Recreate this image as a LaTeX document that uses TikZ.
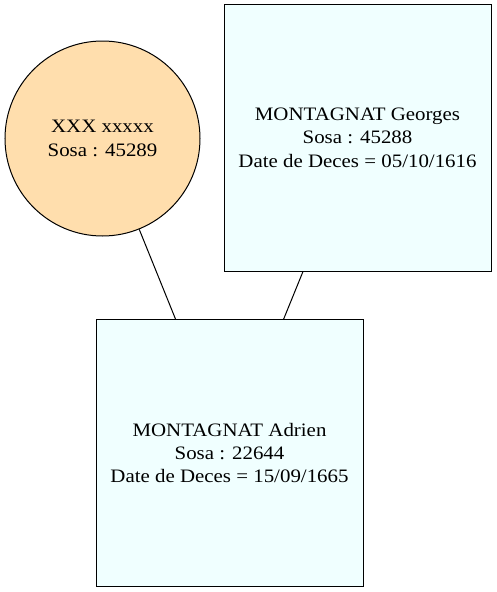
\documentclass[tikz,border=0pt]{standalone}
\usepackage{fontspec}
\setmainfont{Liberation Serif}[FakeStretch=1.1]
\definecolor{navaj}{RGB}{255,222,173}
\definecolor{azur}{RGB}{240,255,255}
\begin{document}
\begin{tikzpicture}[x=1pt,y=-1pt,
  txt/.style={align=center, inner sep=0pt, font=\fontsize{19}{23.3}\selectfont},
  person/.style={txt, draw=black, line width=1pt, fill=azur, minimum width=267pt, minimum height=267pt},
  spouse/.style={txt, circle, draw=black, line width=1pt, fill=navaj, minimum size=195pt},
  link/.style={draw=black, line width=1pt}]
\useasboundingbox (0,0) rectangle (496,592);
\node[spouse] (w) at (102.5,138.5) {XXX xxxxx\\Sosa : 45289};
\node[person] (h) at (357.5,137.5) {MONTAGNAT Georges\\Sosa : 45288\\Date de Deces = 05/10/1616};
\node[person] (c) at (229.5,453) {MONTAGNAT Adrien\\Sosa : 22644\\Date de Deces = 15/09/1665};
\draw[link] (w) -- (c);
\draw[link] (h) -- (c);
\end{tikzpicture}
\end{document}
